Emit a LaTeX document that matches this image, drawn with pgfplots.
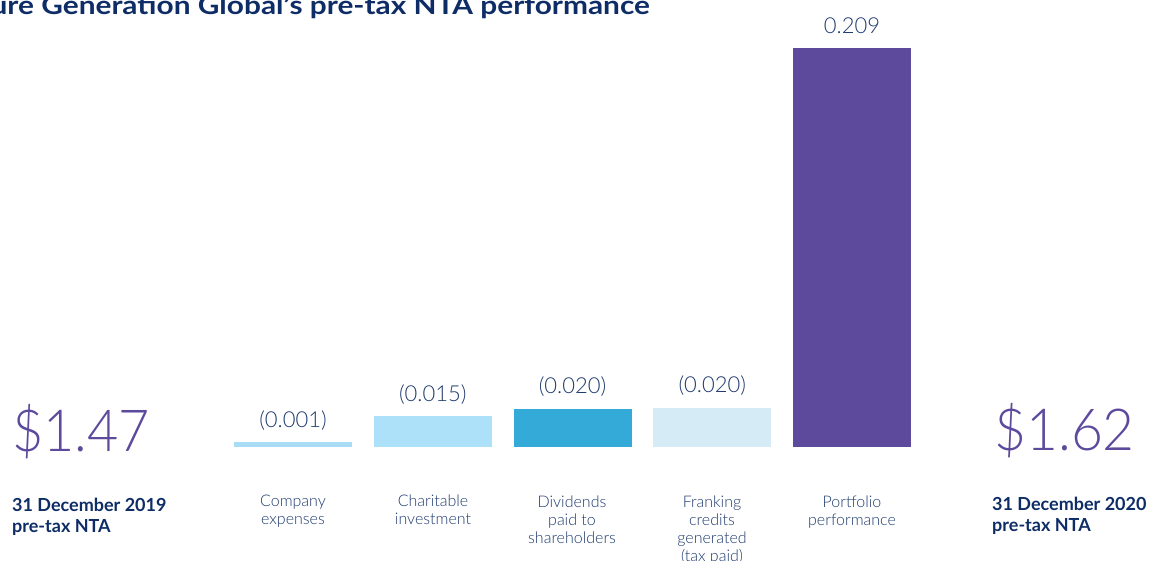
\documentclass[border=0pt]{standalone}
\usepackage{pgfplots}
\pgfplotsset{compat=1.18}
\usepackage{fontspec}
\setmainfont{Lato}
\newfontfamily\lightfont{Lato Light}
\definecolor{navy}{HTML}{1E3A6E}
\definecolor{titlenavy}{HTML}{0E2C66}
\definecolor{purp}{HTML}{5D4A9C}
\definecolor{cexp}{HTML}{A9DDF5}
\definecolor{charc}{HTML}{ADE1F9}
\definecolor{divi}{HTML}{33AAD8}
\definecolor{frank}{HTML}{D5ECF7}
\begin{document}
\begin{tikzpicture}
\begin{axis}[at={(0pt,0pt)}, anchor=south west, scale only axis,
  width=1157pt, height=561pt, hide axis, clip=false,
  xmin=-2.0966, xmax=6.1825, ymin=-0.05972, ymax=0.23416,
  ybar, bar width=0.844, bar shift=0pt,
  point meta=explicit symbolic, nodes near coords,
  every node near coord/.style={anchor=base, yshift=15pt, inner sep=0pt,
    text=navy, font=\lightfont\fontsize{22}{22}\selectfont},
]
\addplot[draw=none, fill=cexp] coordinates {(0,0.0025) [(0.001)]};
\addplot[draw=none, fill=charc] coordinates {(1,0.016) [(0.015)]};
\addplot[draw=none, fill=divi] coordinates {(2,0.020) [(0.020)]};
\addplot[draw=none, fill=frank] coordinates {(3,0.0205) [(0.020)]};
\addplot[draw=none, fill=purp] coordinates {(4,0.209) [0.209]};
\end{axis}
% title (cut at the left and top edges like the reference)
\node[anchor=base east, inner sep=0pt, text=titlenavy, font=\bfseries\fontsize{25.5}{25.5}\selectfont] at (650pt,546pt) {\scalebox{1.17}[1]{Future Generation Global's pre-tax NTA performance}};
% category labels
\tikzset{catlab/.style={anchor=north, inner sep=0pt, align=center, text=navy, font=\lightfont\fontsize{16}{18}\selectfont}}
\node[catlab] at (293pt,66pt) {Company\\expenses};
\node[catlab] at (433pt,66pt) {Charitable\\investment};
\node[catlab] at (572pt,65pt) {Dividends\\paid to\\shareholders};
\node[catlab] at (712pt,65pt) {Franking\\credits\\generated\\(tax paid)};
\node[catlab] at (852pt,65pt) {Portfolio\\performance};
% NTA blocks
\node[anchor=base west, inner sep=0pt, text=purp, font=\lightfont\fontsize{58}{58}\selectfont] at (12pt,109pt) {\scalebox{0.93}[1]{\$1.47}};
\node[anchor=base west, inner sep=0pt, text=purp, font=\lightfont\fontsize{58}{58}\selectfont] at (994pt,110pt) {\scalebox{0.95}[1]{\$1.62}};
\node[anchor=base west, inner sep=0pt, align=left, text=titlenavy, font=\bfseries\fontsize{18}{21}\selectfont] at (12pt,28pt) {31 December 2019\\pre-tax NTA};
\node[anchor=base west, inner sep=0pt, align=left, text=titlenavy, font=\bfseries\fontsize{18}{21}\selectfont] at (992pt,29.5pt) {31 December 2020\\pre-tax NTA};
\pgfresetboundingbox
\path[use as bounding box] (0pt,0pt) rectangle (1157pt,561pt);
\end{tikzpicture}
\end{document}
